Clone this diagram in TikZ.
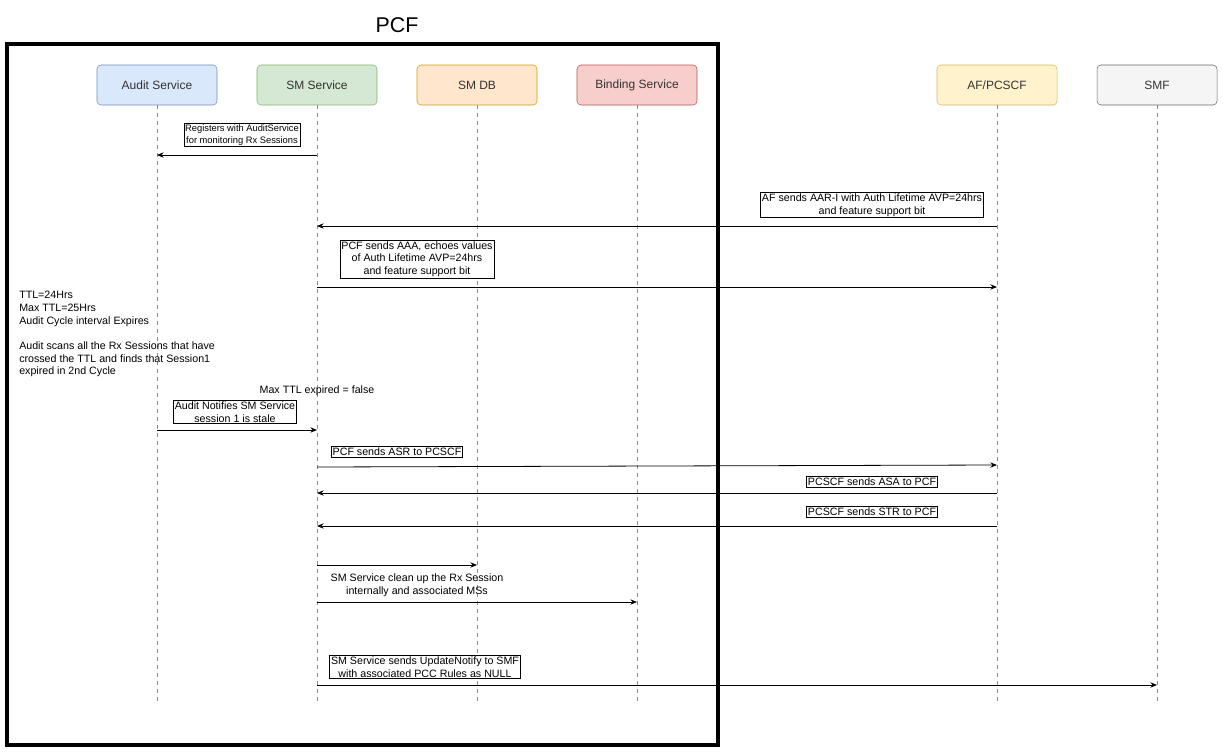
\documentclass[tikz,border=0pt]{standalone}
\usepackage{fontspec}
\setmainfont{Liberation Sans}
\usetikzlibrary{arrows.meta}
\begin{document}
\begin{tikzpicture}[x=0.75pt,y=-0.75pt,
  life/.style={draw=black!45,dash pattern=on 3pt off 3pt,line width=0.5pt},
  msg/.style={-{Stealth[length=5pt,width=4pt]},line width=0.6pt},
  lbl/.style={draw,fill=white,inner sep=1pt,align=center,font=\fontsize{8}{9.5}\selectfont},
  lbls/.style={draw,fill=white,inner sep=1pt,align=center,font=\fontsize{7}{8.5}\selectfont},
  txt/.style={align=center,font=\fontsize{8}{9.5}\selectfont,inner sep=1pt}]
\useasboundingbox (0,0) rectangle (1223,753);
\draw[line width=2.3pt] (7,44) rectangle (718,745);
\node[font=\fontsize{16}{18}\selectfont] (pcf) at (397,25) {PCF};
\definecolor{c1}{HTML}{DAE8FC}\definecolor{s1}{HTML}{6C8EBF}
\definecolor{c2}{HTML}{D5E8D4}\definecolor{s2}{HTML}{82B366}
\definecolor{c3}{HTML}{FFE6CC}\definecolor{s3}{HTML}{D79B00}
\definecolor{c4}{HTML}{F8CECC}\definecolor{s4}{HTML}{B85450}
\definecolor{c5}{HTML}{FFF2CC}\definecolor{s5}{HTML}{D6B656}
\definecolor{c6}{HTML}{F5F5F5}\definecolor{s6}{HTML}{666666}
\foreach \n/\x/\t/\i in {au/157/{Audit Service}/1, sm/317/{SM Service}/2, db/477/{SM DB}/3, bs/637/{Binding Service}/4, af/997/{AF/PCSCF}/5, smf/1157/{SMF}/6}{
  \node[draw=s\i,fill=c\i,rounded corners=3pt,minimum width=90pt,minimum height=30pt,font=\fontsize{9}{11}\selectfont,text=black!80] (\n) at (\x,85) {\t};
  \coordinate (\n e) at (\x,703);
  \draw[life] (\n.south) -- (\n e);
}
\coordinate (a1) at (317,155); \coordinate (b1) at (157,155);
\draw[msg] (a1) -- (b1);
\node[lbls] (l1) at (242,135) {Registers with AuditService\\for monitoring Rx Sessions};
\coordinate (a2) at (997,226); \coordinate (b2) at (317,226);
\draw[msg] (a2) -- (b2);
\node[lbl] (l2) at (872,205) {AF sends AAR-I with Auth Lifetime AVP=24hrs\\and feature support bit};
\coordinate (a3) at (317,287); \coordinate (b3) at (997,287);
\draw[msg] (a3) -- (b3);
\node[lbl] (l3) at (417,259) {PCF sends AAA, echoes values\\of Auth Lifetime AVP=24hrs\\and feature support bit};
\node[align=left,anchor=north west,font=\fontsize{8}{9.5}\selectfont,inner sep=0pt] (note) at (19,291) {TTL=24Hrs\\Max TTL=25Hrs\\Audit Cycle interval Expires\\[9.5pt]Audit scans all the Rx Sessions that have\\crossed the TTL and finds that Session1\\expired in 2nd Cycle};
\node[txt] (mx) at (317,391) {Max TTL expired = false};
\coordinate (a4) at (157,430); \coordinate (b4) at (317,430);
\draw[msg] (a4) -- (b4);
\node[lbl] (l4) at (235,412) {Audit Notifies SM Service\\session 1 is stale};
\coordinate (a5) at (317,467); \coordinate (b5) at (997,465);
\draw[msg] (a5) -- (b5);
\node[lbl] (l5) at (397,452) {PCF sends ASR to PCSCF};
\coordinate (a6) at (997,493); \coordinate (b6) at (317,493);
\draw[msg] (a6) -- (b6);
\node[lbl] (l6) at (872,482) {PCSCF sends ASA to PCF};
\coordinate (a7) at (997,526); \coordinate (b7) at (317,526);
\draw[msg] (a7) -- (b7);
\node[lbl] (l7) at (872,512) {PCSCF sends STR to PCF};
\coordinate (a8) at (317,565); \coordinate (b8) at (477,565);
\draw[msg] (a8) -- (b8);
\coordinate (a9) at (317,602); \coordinate (b9) at (637,602);
\draw[msg] (a9) -- (b9);
\node[txt] (l9) at (417,585) {SM Service clean up the Rx Session\\internally and associated MSs};
\coordinate (a10) at (317,685); \coordinate (b10) at (1157,685);
\draw[msg] (a10) -- (b10);
\node[lbl] (l10) at (425,667) {SM Service sends UpdateNotify to SMF\\with associated PCC Rules as NULL};
\end{tikzpicture}
\end{document}
